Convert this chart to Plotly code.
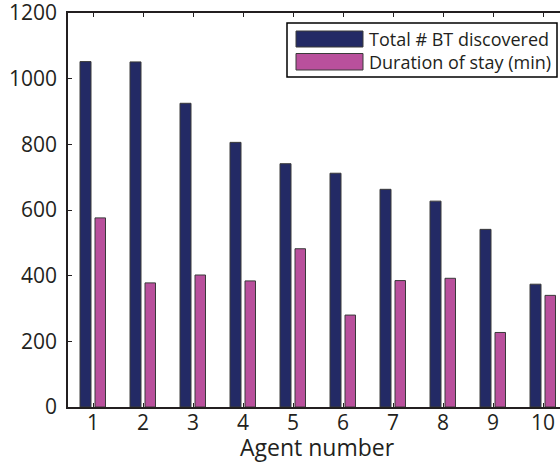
import plotly.graph_objects as go

agents = [1, 2, 3, 4, 5, 6, 7, 8, 9, 10]
bt_discovered = [1052, 1051, 925, 806, 741, 712, 663, 627, 541, 374]
stay_minutes = [576, 378, 402, 384, 482, 280, 385, 392, 227, 340]
y_ticks = [0, 200, 400, 600, 800, 1000, 1200]
series_names = ["Total # BT discovered", "Duration of stay (min)"]

NAVY = "#232a65"
PINK = "#b9509c"
INK = "#231f20"
FONT = "Open Sans"

fig = go.Figure()
fig.add_trace(go.Bar(x=agents, y=bt_discovered, name=series_names[0],
                     marker=dict(color=NAVY, line=dict(color="#3a3a3a", width=1)),
                     offset=-0.26, width=0.22, showlegend=False))
fig.add_trace(go.Bar(x=agents, y=stay_minutes, name=series_names[1],
                     marker=dict(color=PINK, line=dict(color="#3a3a3a", width=1)),
                     offset=0.04, width=0.21, showlegend=False))

# pixel -> paper helpers for the hand-drawn legend
L, R, T, B = 68, 560, 13, 407
def px(x):
    return (x - L) / (R - L)
def py(y):
    return (B - y) / (B - T)

shapes = [
    dict(type="rect", xref="paper", yref="paper", x0=px(287), x1=px(557), y0=py(77), y1=py(23),
         line=dict(color="black", width=1.5), fillcolor="white", layer="above"),
    dict(type="rect", xref="paper", yref="paper", x0=px(296), x1=px(363), y0=py(47), y1=py(31),
         line=dict(color="#3a3a3a", width=1), fillcolor=NAVY, layer="above"),
    dict(type="rect", xref="paper", yref="paper", x0=px(296), x1=px(363), y0=py(70), y1=py(53.5),
         line=dict(color="#3a3a3a", width=1), fillcolor=PINK, layer="above"),
]
annotations = [
    dict(text=series_names[0], xref="paper", yref="paper", x=px(367), y=py(39), xanchor="left",
         yanchor="middle", showarrow=False, font=dict(family=FONT, size=18, color=INK)),
    dict(text=series_names[1], xref="paper", yref="paper", x=px(367), y=py(62), xanchor="left",
         yanchor="middle", showarrow=False, font=dict(family=FONT, size=18, color=INK)),
    dict(text="Agent number", xref="paper", yref="paper", x=px(317), y=py(447), xanchor="center",
         yanchor="middle", showarrow=False, font=dict(family=FONT, size=23, color=INK)),
]

fig.update_layout(
    width=560, height=462,
    margin=dict(l=68, r=0, t=13, b=55, autoexpand=False),
    paper_bgcolor="white", plot_bgcolor="white",
    barmode="overlay",
    font=dict(family=FONT, color=INK),
    shapes=shapes, annotations=annotations,
    xaxis=dict(range=[0.5, 10.34], tickvals=agents, ticktext=[str(a) for a in agents],
               showgrid=False, zeroline=False, showline=True, linecolor=INK, linewidth=1.5,
               mirror="ticks", ticks="inside", ticklen=4, tickcolor=INK, tickwidth=1,
               automargin=False, ticklabeloverflow="allow", ticklabelstandoff=-4,
               tickfont=dict(family=FONT, size=21, color=INK)),
    yaxis=dict(range=[0, 1200.01], tickvals=y_ticks, showgrid=False, zeroline=False,
               showline=True, linecolor=INK, linewidth=1.5, mirror=False,
               ticks="inside", ticklen=4, tickcolor=INK, tickwidth=1,
               automargin=False, ticklabeloverflow="allow", ticklabelstandoff=5,
               tickfont=dict(family=FONT, size=21, color=INK)),
)

fig.write_html("out.html", config={"displayModeBar": False},
               post_script="document.body.style.margin='0';document.body.style.padding='0';")
